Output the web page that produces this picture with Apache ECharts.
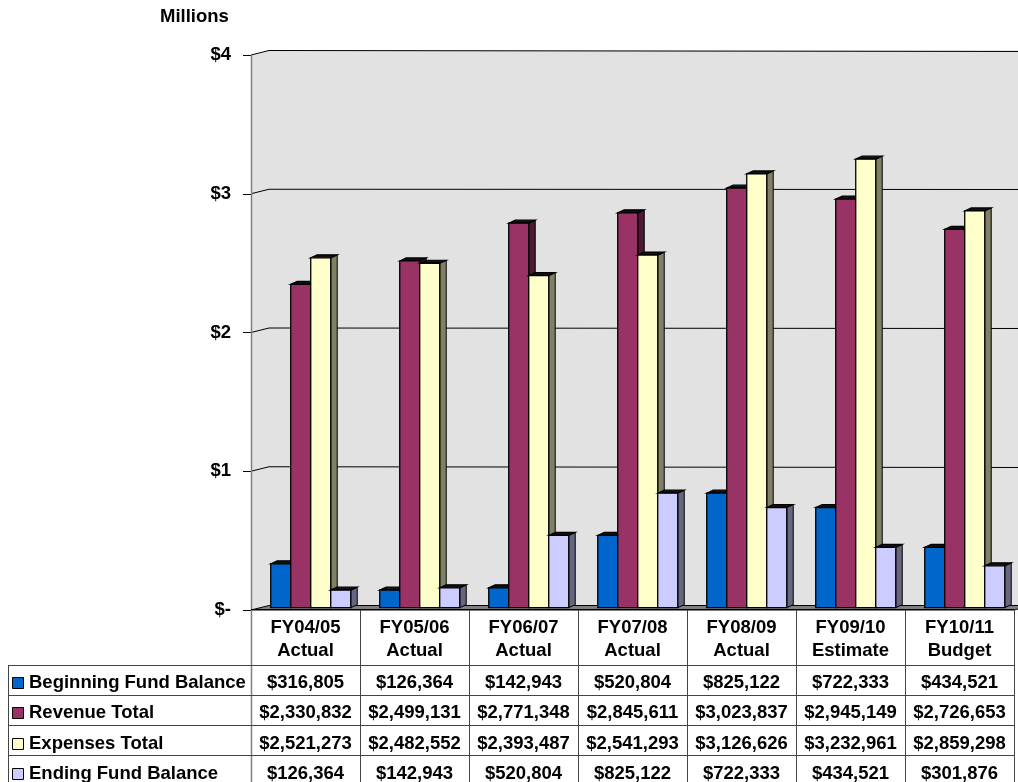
<!DOCTYPE html>
<html>
<head>
<meta charset="utf-8">
<title>Fund Balance Summary</title>
<script src="https://cdn.jsdelivr.net/npm/echarts@6/dist/echarts.min.js"></script>
<style>
  html, body { margin: 0; padding: 0; background: #ffffff; }
  #chart { width: 1018px; height: 782px; }
</style>
</head>
<body>
<div id="chart"></div>
<script>
// ---- Data -------------------------------------------------------------
const fiscalYears = ['FY04/05', 'FY05/06', 'FY06/07', 'FY07/08', 'FY08/09', 'FY09/10', 'FY10/11'];
const stages      = ['Actual', 'Actual', 'Actual', 'Actual', 'Actual', 'Estimate', 'Budget'];

const seriesNames = ['Beginning Fund Balance', 'Revenue Total', 'Expenses Total', 'Ending Fund Balance'];
const beginningFundBalance = [316805, 126364, 142943, 520804, 825122, 722333, 434521];
const revenueTotal         = [2330832, 2499131, 2771348, 2845611, 3023837, 2945149, 2726653];
const expensesTotal        = [2521273, 2482552, 2393487, 2541293, 3126626, 3232961, 2859298];
const endingFundBalance    = [126364, 142943, 520804, 825122, 722333, 434521, 301876];

const yTicks = [0, 1000000, 2000000, 3000000, 4000000];

// ---- Styling ------------------------------------------------------------
const FONT = 'Arial, "Liberation Sans", sans-serif';
const FONT_SIZE = 18.5;
const faceColors = ['#0066CC', '#993366', '#FFFFCC', '#CCCCFF'];
const sideColors = ['#003366', '#4D1A33', '#808066', '#666680'];
const valueRows = [beginningFundBalance, revenueTotal, expensesTotal, endingFundBalance];

const WALL_DX = 18, WALL_DY = -4.5;    // depth of the back wall
const BAR_LIFT = -2.3;                 // bars sit slightly behind the axis plane
const BAR_DX = 6.5, BAR_DY = -3;       // bar depth
const ROW_TOPS = [55, 84.5, 114.5, 145, 174];  // table row edges, relative to the floor
const ROW_TEXT = [72.5, 102.5, 133.5, 163.5];  // text centres, relative to the floor

const money = v => '$' + v.toLocaleString('en-US');
const crisp = v => Math.round(v) + 0.5;

// Walls, gridlines and floor
function renderWalls(params, api) {
  const cs = params.coordSys;
  const yBot = api.coord([0, 0])[1];
  const yTop = api.coord([0, yTicks[yTicks.length - 1]])[1];
  const xL = cs.x, xR = cs.x + cs.width;
  const children = [];
  children.push({
    type: 'polygon',
    shape: { points: [[xL, yTop], [xL + WALL_DX, yTop + WALL_DY], [xR + WALL_DX, yTop + WALL_DY],
                      [xR + WALL_DX, yBot + WALL_DY], [xL + WALL_DX, yBot + WALL_DY], [xL, yBot]] },
    style: { fill: '#E2E2E2', stroke: null }
  });
  yTicks.forEach(v => {
    if (v === 0) return;
    const y = api.coord([0, v])[1];
    children.push({
      type: 'polyline',
      shape: { points: [[xL, y], [xL + WALL_DX, y + WALL_DY], [xR + WALL_DX, crisp(y + WALL_DY)]] },
      style: { stroke: '#000', lineWidth: 1, fill: null }
    });
  });
  // floor
  children.push({
    type: 'polygon',
    shape: { points: [[xL, yBot], [xL + WALL_DX, yBot + WALL_DY], [xR + WALL_DX, yBot + WALL_DY], [xR, yBot]] },
    style: { fill: '#808080', stroke: '#000', lineWidth: 1 }
  });
  // left wall edge, continuing as the table border
  children.push({
    type: 'line',
    shape: { x1: crisp(xL), y1: yTop, x2: crisp(xL), y2: yBot + ROW_TOPS[4] },
    style: { stroke: '#808080', lineWidth: 1.5 }
  });
  return { type: 'group', children };
}

// 3-D style column: side face, top face, front face
function barRenderer(k) {
  return function (params, api) {
    const cat = api.value(0), val = api.value(1);
    const base = api.coord([cat, 0]);
    const top = api.coord([cat, val]);
    const bw = api.size([1, 0])[0];
    const w = bw * 0.1835;
    const x0 = base[0] - bw / 2 + bw * 0.181 + k * w;
    const yb = base[1] + BAR_LIFT, yt = top[1] + BAR_LIFT;
    return {
      type: 'group',
      children: [
        {
          type: 'polygon',
          shape: { points: [[x0 + w, yt], [x0 + w + BAR_DX, yt + BAR_DY], [x0 + w + BAR_DX, yb + BAR_DY], [x0 + w, yb]] },
          style: { fill: sideColors[k], stroke: '#000', lineWidth: 1 }
        },
        {
          type: 'polygon',
          shape: { points: [[x0, yt], [x0 + BAR_DX, yt + BAR_DY], [x0 + w + BAR_DX, yt + BAR_DY], [x0 + w, yt]] },
          style: { fill: '#111', stroke: '#000', lineWidth: 1.2 }
        },
        {
          type: 'rect',
          shape: { x: x0, y: yt, width: w, height: yb - yt },
          style: { fill: faceColors[k], stroke: '#000', lineWidth: 1.3 }
        }
      ]
    };
  };
}

// Data table under the chart: one column per category, legend column at the left
function renderTable(params, api) {
  const cat = api.value(0);
  const c = api.coord([cat, 0]);
  const bw = api.size([1, 0])[0];
  const y0 = c[1];
  const xl = c[0] - bw / 2, xr = c[0] + bw / 2;
  const lineStyle = { stroke: '#444', lineWidth: 1 };
  const font = 'bold ' + FONT_SIZE + 'px ' + FONT;
  const children = [];
  // top edge under the floor
  children.push({ type: 'line', shape: { x1: xl, y1: crisp(y0 - 1), x2: xr, y2: crisp(y0 - 1) }, style: { stroke: '#000', lineWidth: 1.2 } });
  // right border of the column
  children.push({ type: 'line', shape: { x1: crisp(xr), y1: y0, x2: crisp(xr), y2: y0 + ROW_TOPS[4] }, style: lineStyle });
  ROW_TOPS.forEach(r => {
    children.push({ type: 'line', shape: { x1: xl, y1: crisp(y0 + r), x2: xr, y2: crisp(y0 + r) }, style: lineStyle });
  });
  valueRows.forEach((row, r) => {
    children.push({
      type: 'text',
      style: { text: money(row[cat]), x: c[0], y: y0 + ROW_TEXT[r], align: 'center', verticalAlign: 'middle',
               fill: '#000', font }
    });
  });
  if (cat === 0) {
    const lx = 8;
    children.push({ type: 'line', shape: { x1: crisp(lx), y1: y0 + ROW_TOPS[0], x2: crisp(lx), y2: y0 + ROW_TOPS[4] }, style: lineStyle });
    ROW_TOPS.forEach(r => {
      children.push({ type: 'line', shape: { x1: lx, y1: crisp(y0 + r), x2: xl, y2: crisp(y0 + r) }, style: lineStyle });
    });
    seriesNames.forEach((name, r) => {
      const yc = y0 + ROW_TEXT[r];
      children.push({
        type: 'rect',
        shape: { x: 12.5, y: Math.round(yc - 6) + 0.5, width: 11, height: 11 },
        style: { fill: faceColors[r], stroke: '#000', lineWidth: 1 }
      });
      children.push({
        type: 'text',
        style: { text: name, x: 29, y: yc, align: 'left', verticalAlign: 'middle', fill: '#000', font }
      });
    });
  }
  return { type: 'group', children };
}

const categories = fiscalYears.map((fy, i) => fy + '\n' + stages[i]);

const chart = echarts.init(document.getElementById('chart'), null, { renderer: 'canvas' });
chart.setOption({
  animation: false,
  backgroundColor: '#ffffff',
  title: {
    text: 'Millions',
    left: 160, top: 7, padding: 0,
    textStyle: { fontSize: FONT_SIZE, fontWeight: 'bold', fontFamily: FONT, color: '#000' }
  },
  grid: { left: 251, right: 4, top: 55, bottom: 172, outerBoundsMode: 'none' },
  xAxis: {
    type: 'category',
    data: categories,
    boundaryGap: true,
    axisLine: { show: false },
    axisTick: { show: false },
    splitLine: { show: false },
    axisLabel: {
      interval: 0, margin: 6, lineHeight: 23,
      fontSize: FONT_SIZE, fontWeight: 'bold', fontFamily: FONT, color: '#000'
    }
  },
  yAxis: {
    type: 'value',
    min: 0, max: 4000000, interval: 1000000,
    axisLine: { show: false },
    axisTick: { show: true, length: 8, lineStyle: { color: '#000', width: 1 } },
    splitLine: { show: false },
    axisLabel: {
      margin: 20, fontSize: FONT_SIZE, fontWeight: 'bold', fontFamily: FONT, color: '#000',
      formatter: v => v === 0 ? '$-' : '$' + (v / 1000000)
    }
  },
  series: [
    { type: 'custom', name: 'walls', z: 1, silent: true, renderItem: renderWalls, data: [[0, 0]] },
    ...valueRows.map((row, k) => ({
      type: 'custom',
      name: seriesNames[k],
      z: 2,
      itemStyle: { color: faceColors[k] },
      renderItem: barRenderer(k),
      encode: { x: 0, y: 1 },
      data: row.map((v, i) => [i, v])
    })),
    { type: 'custom', name: 'table', z: 3, silent: true, renderItem: renderTable,
      data: fiscalYears.map((_, i) => [i, 0]) }
  ]
});
</script>
</body>
</html>
